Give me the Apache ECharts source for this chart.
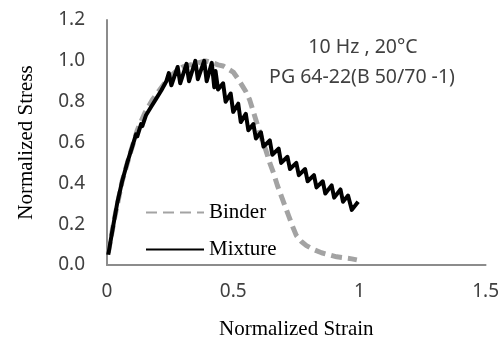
<!DOCTYPE html>
<html>
<head>
<meta charset="utf-8">
<script src="https://cdn.jsdelivr.net/npm/echarts@6/dist/echarts.min.js"></script>
<style>
html,body{margin:0;padding:0;background:#fff;}
#c{width:502px;height:345px;}
</style>
</head>
<body>
<div id="c"></div>
<script>
// Tick values
const xTicks = [0, 0.5, 1, 1.5];
const yTicks = [0, 0.2, 0.4, 0.6, 0.8, 1.0, 1.2];

// Binder (normalized strain, normalized stress)
const binderStrain = [0.005,0.03,0.06,0.09,0.12,0.15,0.18,0.21,0.24,0.27,0.30,0.33,0.36,0.39,0.42,0.44,0.46,0.48,0.50,0.52,0.535,0.55,0.565,0.575,0.59,0.60,0.615,0.63,0.645,0.66,0.675,0.69,0.705,0.72,0.735,0.75,0.77,0.79,0.82,0.85,0.88,0.91,0.94,0.97,0.99];
const binderStress = [0.06,0.23,0.41,0.54,0.66,0.745,0.81,0.86,0.91,0.945,0.97,0.98,0.99,1.00,0.99,0.98,0.975,0.96,0.945,0.91,0.88,0.85,0.81,0.77,0.71,0.67,0.61,0.56,0.50,0.45,0.39,0.34,0.29,0.24,0.19,0.145,0.115,0.095,0.075,0.06,0.05,0.04,0.035,0.03,0.025];

// Mixture (normalized strain, normalized stress)
const mixtureStrain = [0.005,0.02,0.04,0.06,0.08,0.10,0.115,0.12,0.135,0.14,0.155,0.16,0.175,0.18,0.195,0.20,0.215,0.22,0.235,
  0.245,0.255,0.28,0.29,0.315,0.325,0.35,0.36,0.385,0.395,0.415,0.425,
  0.43,0.44,0.46,0.47,0.49,0.50,0.52,0.53,0.55,0.56,0.58,0.59,0.61,0.62,0.645,0.655,0.68,0.69,0.715,0.725,0.75,0.76,0.785,0.795,0.82,0.83,0.855,0.865,0.89,0.90,0.925,0.935,0.955,0.97,0.995];
const mixtureStress = [0.05,0.16,0.30,0.41,0.50,0.58,0.64,0.63,0.69,0.68,0.735,0.73,0.775,0.77,0.815,0.81,0.855,0.85,0.90,
  0.94,0.88,0.97,0.89,0.985,0.90,1.00,0.91,1.00,0.90,0.99,0.87,
  0.95,0.86,0.89,0.80,0.84,0.75,0.79,0.70,0.74,0.66,0.69,0.62,0.65,0.58,0.61,0.54,0.57,0.50,0.53,0.47,0.50,0.44,0.47,0.41,0.44,0.38,0.41,0.35,0.39,0.33,0.37,0.31,0.34,0.27,0.31];

// Annotation lines
const noteLines = ['10 Hz , 20°C', 'PG 64-22(B 50/70 -1)'];

const pair = (xs, ys) => xs.map((x, i) => [x, ys[i]]);

const chart = echarts.init(document.getElementById('c'), null, {renderer: 'canvas'});
chart.setOption({
  animation: false,
  backgroundColor: '#ffffff',
  grid: {left: 107, right: 14, top: 20, bottom: 74, containLabel: false},
  xAxis: {
    type: 'value', min: 0, max: 1.5, interval: 0.5,
    name: 'Normalized Strain', nameLocation: 'middle', nameGap: 54,
    nameTextStyle: {fontFamily: 'Liberation Serif', fontSize: 21, color: '#000'},
    axisLine: {show: true, onZero: false, lineStyle: {color: '#8c8c8c', width: 2}},
    axisTick: {show: false},
    splitLine: {show: false},
    axisLabel: {margin: 17, fontFamily: 'Noto Sans', fontSize: 19, color: '#404040',
      formatter: v => { const t = xTicks.find(k => Math.abs(k - v) < 1e-9); return t === undefined ? '' : String(t); }}
  },
  yAxis: {
    type: 'value', min: 0, max: 1.2, interval: 0.2,
    name: 'Normalized Stress', nameLocation: 'middle', nameGap: 70,
    nameTextStyle: {fontFamily: 'Liberation Serif', fontSize: 21, color: '#000'},
    axisLine: {show: true, lineStyle: {color: '#8c8c8c', width: 2}},
    axisTick: {show: false},
    splitLine: {show: false},
    axisLabel: {margin: 22, fontFamily: 'Noto Sans', fontSize: 19, color: '#404040',
      formatter: v => { const t = yTicks.find(k => Math.abs(k - v) < 1e-9); return t === undefined ? '' : t.toFixed(1); }}
  },
  legend: {
    orient: 'vertical', left: 140, top: 197,
    itemWidth: 58, itemHeight: 14, itemGap: 16,
    itemStyle: {opacity: 0},
    textStyle: {fontFamily: 'Liberation Serif', fontSize: 21, color: '#000'},
    data: ['Binder', 'Mixture']
  },
  graphic: [
    {type: 'text', x: 363, y: 47, style: {text: noteLines[0], align: 'center', verticalAlign: 'middle', fontFamily: 'Noto Sans', fontSize: 19.5, fill: '#404040'}},
    {type: 'text', x: 362, y: 77, style: {text: noteLines[1], align: 'center', verticalAlign: 'middle', fontFamily: 'Noto Sans', fontSize: 19.5, fill: '#404040'}}
  ],
  series: [
    {name: 'Binder', type: 'line', data: pair(binderStrain, binderStress), showSymbol: false, symbol: 'none', smooth: false,
     lineStyle: {color: '#a3a3a3', width: 5, type: [11, 6]}, itemStyle: {color: '#a3a3a3'}},
    {name: 'Mixture', type: 'line', data: pair(mixtureStrain, mixtureStress), showSymbol: false, symbol: 'none', smooth: false,
     lineStyle: {color: '#000000', width: 4, join: 'round'}, itemStyle: {color: '#000000'}}
  ]
});
</script>
</body>
</html>
